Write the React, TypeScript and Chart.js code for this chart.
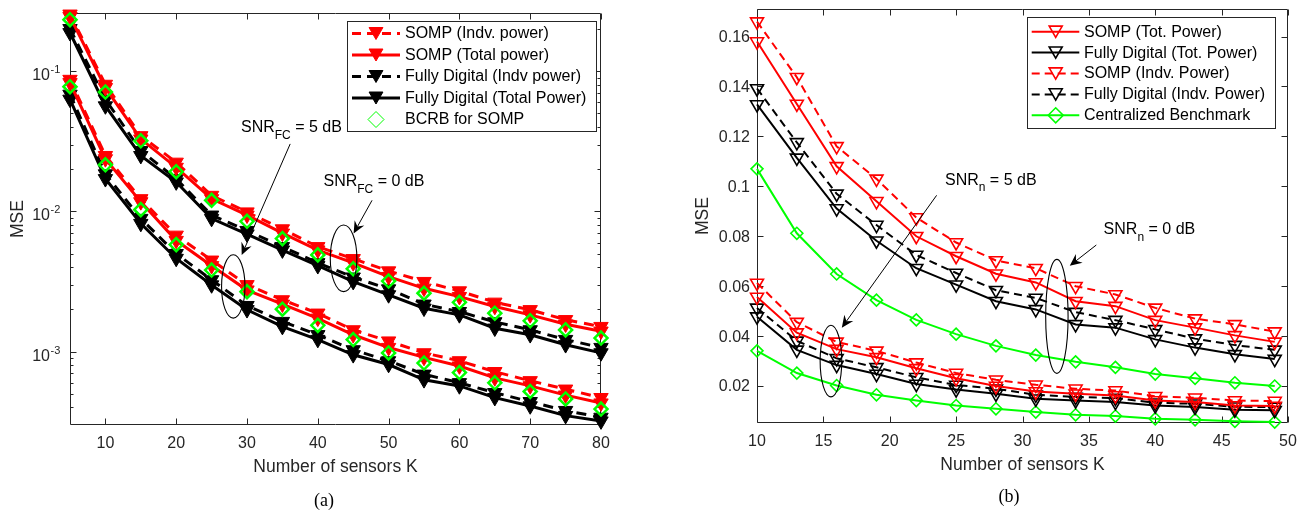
import React, { useEffect, useRef } from 'react';
import { Chart, registerables } from 'chart.js';

Chart.register(...registerables);

const FONT = '"Liberation Sans", Arial, Helvetica, sans-serif';
const SERIF = '"Liberation Serif", "Times New Roman", serif';
const AXIS = '#262626';
const RED = '#ff0000';
const BLACK = '#000000';
const GREEN = '#00ff00';

// ---------------- (a) data ----------------
const sensorsA = [5, 10, 15, 20, 25, 30, 35, 40, 45, 50, 55, 60, 65, 70, 75, 80];
// SNR_FC = 0 dB (upper group)
const sompIndv0dB_A = [0.255, 0.0805, 0.0346, 0.0224, 0.013, 0.0099, 0.0075, 0.0056, 0.0046, 0.00376, 0.00316, 0.00271, 0.00225, 0.00199, 0.00169, 0.00151];
const sompTotal0dB_A = [0.245, 0.0763, 0.0328, 0.0206, 0.0123, 0.0094, 0.007, 0.0053, 0.0043, 0.00343, 0.00283, 0.00247, 0.0021, 0.00183, 0.00157, 0.0014];
const fdIndv0dB_A = [0.201, 0.063, 0.0271, 0.0171, 0.0094, 0.0073, 0.0056, 0.0043, 0.0034, 0.0028, 0.00218, 0.00193, 0.00163, 0.00143, 0.00122, 0.00107];
const fdTotal0dB_A = [0.188, 0.0565, 0.025, 0.0162, 0.0089, 0.0069, 0.0053, 0.0041, 0.00316, 0.00254, 0.00204, 0.00183, 0.00147, 0.00132, 0.00112, 0.00098];
const bcrb0dB_A = [0.233, 0.071, 0.0319, 0.0192, 0.012, 0.0085, 0.0064, 0.0049, 0.0039, 0.00319, 0.00261, 0.00225, 0.00188, 0.00166, 0.00143, 0.00125];
// SNR_FC = 5 dB (lower group)
const sompIndv5dB_A = [0.0873, 0.025, 0.0123, 0.00676, 0.00449, 0.003, 0.00234, 0.00188, 0.00143, 0.00119, 0.00098, 0.00086, 0.00072, 0.00062, 0.00054, 0.00047];
const sompTotal5dB_A = [0.0827, 0.0237, 0.0117, 0.0062, 0.0041, 0.00275, 0.00218, 0.00173, 0.00132, 0.00107, 0.00091, 0.00079, 0.00065, 0.00057, 0.00049, 0.00043];
const fdIndv5dB_A = [0.0684, 0.0185, 0.0089, 0.005, 0.00325, 0.00213, 0.00164, 0.00132, 0.00103, 0.00086, 0.00069, 0.0006, 0.00051, 0.00044, 0.00038, 0.00034];
const fdTotal5dB_A = [0.063, 0.0171, 0.0082, 0.00462, 0.00299, 0.00199, 0.00151, 0.00122, 0.00095, 0.00081, 0.00063, 0.00057, 0.00047, 0.00041, 0.00035, 0.00032];
const bcrb5dB_A = [0.0775, 0.0215, 0.0103, 0.0058, 0.00382, 0.00268, 0.00201, 0.00154, 0.00122, 0.00098, 0.00083, 0.00071, 0.0006, 0.00052, 0.00046, 0.00039];

const xTicksA = [10, 20, 30, 40, 50, 60, 70, 80];
const yExponentsA = [-3, -2, -1];
const xMinA = 5, xMaxA = 80, yMinA = 3.14e-4, yMaxA = 0.26;
const legendLabelsA = ['SOMP (Indv. power)', 'SOMP (Total power)', 'Fully Digital (Indv power)', 'Fully Digital (Total Power)', 'BCRB for SOMP'];

// ---------------- (b) data ----------------
const sensorsB = [10, 13, 16, 19, 22, 25, 28, 31, 34, 37, 40, 43, 46, 49];
// SNR_n = 0 dB (upper group)
const sompTot0dB_B = [0.158, 0.133, 0.108, 0.094, 0.08, 0.072, 0.065, 0.0615, 0.054, 0.052, 0.0464, 0.0434, 0.0403, 0.0377];
const fdTot0dB_B = [0.1328, 0.1114, 0.0911, 0.0782, 0.0672, 0.0606, 0.054, 0.0507, 0.0447, 0.0434, 0.0387, 0.0354, 0.0327, 0.0308];
const sompIndv0dB_B = [0.166, 0.1437, 0.116, 0.103, 0.0875, 0.0775, 0.0703, 0.0672, 0.06, 0.0567, 0.0513, 0.047, 0.0447, 0.0418];
const fdIndv0dB_B = [0.1392, 0.1176, 0.097, 0.0845, 0.0725, 0.0653, 0.0584, 0.0553, 0.0496, 0.0464, 0.0427, 0.039, 0.0364, 0.0345];
const central0dB_B = [0.107, 0.0812, 0.0649, 0.0544, 0.0465, 0.0408, 0.0361, 0.0324, 0.0297, 0.0275, 0.0248, 0.0231, 0.0213, 0.02];
// SNR_n = 5 dB (lower group)
const sompTot5dB_B = [0.0557, 0.0414, 0.0348, 0.0315, 0.0271, 0.0231, 0.02, 0.0178, 0.0169, 0.0162, 0.0142, 0.0136, 0.0122, 0.012];
const fdTot5dB_B = [0.0478, 0.0345, 0.0284, 0.0248, 0.0208, 0.0186, 0.0169, 0.0149, 0.0142, 0.0136, 0.0122, 0.0116, 0.0105, 0.0103];
const sompIndv5dB_B = [0.0613, 0.0456, 0.0377, 0.0341, 0.0294, 0.0252, 0.0225, 0.0205, 0.0189, 0.0182, 0.0159, 0.0153, 0.0142, 0.014];
const fdIndv5dB_B = [0.0513, 0.0381, 0.0311, 0.0275, 0.0235, 0.0204, 0.0189, 0.0165, 0.0156, 0.0152, 0.0133, 0.0129, 0.0117, 0.0116];
const central5dB_B = [0.0341, 0.0252, 0.0202, 0.0165, 0.0142, 0.0122, 0.0109, 0.0096, 0.0085, 0.008, 0.0069, 0.0065, 0.0059, 0.0056];

const xTicksB = [10, 15, 20, 25, 30, 35, 40, 45, 50];
const yTicksB = [0.02, 0.04, 0.06, 0.08, 0.1, 0.12, 0.14, 0.16];
const xMinB = 10, xMaxB = 50, yMinB = 0.0052, yMaxB = 0.171;
const legendLabelsB = ['SOMP (Tot. Power)', 'Fully Digital (Tot. Power)', 'SOMP (Indv. Power)', 'Fully Digital (Indv. Power)', 'Centralized Benchmark'];

// ---------------- helpers ----------------
function series(xs: number[], ys: number[], o: any) {
  return {
    data: xs.map((x, i) => ({ x, y: ys[i] })),
    borderColor: o.color,
    backgroundColor: o.color,
    borderWidth: o.lineWidth,
    borderDash: o.dash || [],
    showLine: o.showLine !== false,
    pointStyle: o.marker,
    pointRotation: o.marker === 'triangle' ? 180 : 0,
    pointRadius: o.radius,
    pointHoverRadius: o.radius,
    pointBorderWidth: o.markerWidth,
    pointBorderColor: o.color,
    pointBackgroundColor: o.filled ? o.color : 'rgba(0,0,0,0)',
    tension: 0,
    fill: false,
    clip: false,
    order: o.order,
  };
}

function drawMarker(ctx: any, type: string, x: number, y: number, r: number, color: string, filled: boolean, lw: number) {
  ctx.beginPath();
  if (type === 'triangle') {
    ctx.moveTo(x - r * 0.866, y - r / 2);
    ctx.lineTo(x + r * 0.866, y - r / 2);
    ctx.lineTo(x, y + r);
    ctx.closePath();
  } else {
    ctx.moveTo(x - r, y);
    ctx.lineTo(x, y - r);
    ctx.lineTo(x + r, y);
    ctx.lineTo(x, y + r);
    ctx.closePath();
  }
  ctx.setLineDash([]);
  ctx.lineWidth = lw;
  ctx.strokeStyle = color;
  if (filled) {
    ctx.fillStyle = color;
    ctx.fill();
  }
  ctx.stroke();
}

function drawFrame(chart: any, spec: any) {
  const { ctx, chartArea: a } = chart;
  const xs = chart.scales.x;
  const ys = chart.scales.y;
  const L = Math.round(a.left) + 0.5;
  const R = Math.round(a.right) - 0.5;
  const T = Math.round(a.top) + 0.5;
  const B = Math.round(a.bottom) - 0.5;
  ctx.save();
  ctx.strokeStyle = AXIS;
  ctx.lineWidth = 1;
  ctx.setLineDash([]);
  ctx.beginPath();
  ctx.rect(L, T, R - L, B - T);
  for (const t of spec.xTicks) {
    const p = Math.round(xs.getPixelForValue(t)) + 0.5;
    ctx.moveTo(p, B); ctx.lineTo(p, B - 6);
    ctx.moveTo(p, T); ctx.lineTo(p, T + 6);
  }
  for (const t of spec.yMajor) {
    const p = Math.round(ys.getPixelForValue(t)) + 0.5;
    ctx.moveTo(L, p); ctx.lineTo(L + 6, p);
    ctx.moveTo(R, p); ctx.lineTo(R - 6, p);
  }
  for (const t of spec.yMinor) {
    const p = Math.round(ys.getPixelForValue(t)) + 0.5;
    ctx.moveTo(L, p); ctx.lineTo(L + 3, p);
    ctx.moveTo(R, p); ctx.lineTo(R - 3, p);
  }
  ctx.stroke();

  ctx.fillStyle = AXIS;
  ctx.font = `16px ${FONT}`;
  ctx.textAlign = 'center';
  ctx.textBaseline = 'middle';
  spec.xTicks.forEach((t: number) => ctx.fillText(String(t), xs.getPixelForValue(t), a.bottom + 18.5));

  spec.drawYLabels(ctx, ys, a);

  ctx.fillStyle = AXIS;
  ctx.font = `17.5px ${FONT}`;
  ctx.textAlign = 'center';
  ctx.textBaseline = 'middle';
  ctx.fillText('Number of sensors K', (a.left + a.right) / 2, a.bottom + 42);
  ctx.save();
  ctx.translate(spec.yTitleX, (a.top + a.bottom) / 2);
  ctx.rotate(-Math.PI / 2);
  ctx.fillText('MSE', 0, 0);
  ctx.restore();

  ctx.fillStyle = '#000';
  ctx.font = `18px ${SERIF}`;
  ctx.fillText(spec.caption, spec.captionX, spec.captionY);
  ctx.restore();
}

function drawLegend(ctx: any, lg: any) {
  ctx.save();
  ctx.fillStyle = '#fff';
  ctx.fillRect(lg.x, lg.y, lg.w, lg.h);
  ctx.strokeStyle = AXIS;
  ctx.lineWidth = 1;
  ctx.setLineDash([]);
  ctx.strokeRect(Math.round(lg.x) + 0.5, Math.round(lg.y) + 0.5, Math.round(lg.w), Math.round(lg.h));
  lg.rows.forEach((row: any, i: number) => {
    const y = lg.rowY0 + i * lg.rowStep;
    if (row.line) {
      ctx.beginPath();
      ctx.strokeStyle = row.color;
      ctx.lineWidth = lg.lineWidth;
      ctx.setLineDash(row.dash ? lg.dash : []);
      ctx.moveTo(lg.sx1, y);
      ctx.lineTo(lg.sx2, y);
      ctx.stroke();
    }
    drawMarker(ctx, row.marker, lg.mx, y + (row.marker === 'triangle' ? -lg.r / 4 : 0), lg.r, row.color, row.filled, lg.markerWidth);
    ctx.fillStyle = '#000';
    ctx.font = `16px ${FONT}`;
    ctx.textAlign = 'left';
    ctx.textBaseline = 'middle';
    ctx.fillText(row.label, lg.tx, y + 0.5);
  });
  ctx.restore();
}

function drawAnnotations(chart: any, ann: any) {
  const { ctx } = chart;
  const xs = chart.scales.x;
  const ys = chart.scales.y;
  const P = (k: number, v: number) => [xs.getPixelForValue(k), ys.getPixelForValue(v)];
  ctx.save();
  ctx.strokeStyle = '#000';
  ctx.fillStyle = '#000';
  ctx.lineWidth = 1.1;
  ctx.setLineDash([]);
  for (const e of ann.ellipses) {
    const [x, y] = P(e.k, e.v);
    ctx.beginPath();
    ctx.ellipse(x, y, e.rx, e.ry, 0, 0, Math.PI * 2);
    ctx.stroke();
  }
  for (const ar of ann.arrows) {
    const [x0, y0] = P(ar.from[0], ar.from[1]);
    const [x1, y1] = P(ar.to[0], ar.to[1]);
    const len = Math.hypot(x1 - x0, y1 - y0);
    const ux = (x1 - x0) / len, uy = (y1 - y0) / len;
    const nx = -uy, ny = ux;
    const HL = 12, HW = 5.5, NOTCH = 4;
    ctx.beginPath();
    ctx.lineWidth = 1;
    ctx.moveTo(x0, y0);
    ctx.lineTo(x1 - ux * (HL - NOTCH), y1 - uy * (HL - NOTCH));
    ctx.stroke();
    ctx.beginPath();
    ctx.moveTo(x1, y1);
    ctx.lineTo(x1 - ux * HL + nx * HW, y1 - uy * HL + ny * HW);
    ctx.lineTo(x1 - ux * (HL - NOTCH), y1 - uy * (HL - NOTCH));
    ctx.lineTo(x1 - ux * HL - nx * HW, y1 - uy * HL - ny * HW);
    ctx.closePath();
    ctx.fill();
  }
  ctx.textAlign = 'left';
  ctx.textBaseline = 'alphabetic';
  for (const t of ann.texts) {
    let [x, y] = P(t.k, t.v);
    ctx.font = `16px ${FONT}`;
    ctx.fillText('SNR', x, y + 5.8);
    x += ctx.measureText('SNR').width;
    ctx.font = `12px ${FONT}`;
    ctx.fillText(t.sub, x, y + 12.5);
    x += ctx.measureText(t.sub).width;
    ctx.font = `16px ${FONT}`;
    ctx.fillText(t.rest, x, y + 5.8);
  }
  ctx.restore();
}

// ---------------- chart configs ----------------
function minorLogTicks(min: number, max: number) {
  const out: number[] = [];
  for (let e = -5; e <= 1; e++) {
    for (let m = 2; m <= 9; m++) {
      const v = m * Math.pow(10, e);
      if (v > min && v < max) out.push(v);
    }
  }
  return out;
}

function configA() {
  const tri = { marker: 'triangle', radius: 8.3, markerWidth: 1, filled: true, lineWidth: 3 };
  const dia = { marker: 'rectRot', radius: 6.5, markerWidth: 2.5, filled: false, lineWidth: 0, showLine: false, color: GREEN, order: 0 };
  const dashA = [10, 7];
  const datasets = [
    series(sensorsA, sompIndv0dB_A, { ...tri, color: RED, dash: dashA, order: 1 }),
    series(sensorsA, sompTotal0dB_A, { ...tri, color: RED, order: 1 }),
    series(sensorsA, fdIndv0dB_A, { ...tri, color: BLACK, dash: dashA, order: 2 }),
    series(sensorsA, fdTotal0dB_A, { ...tri, color: BLACK, order: 2 }),
    series(sensorsA, bcrb0dB_A, dia),
    series(sensorsA, sompIndv5dB_A, { ...tri, color: RED, dash: dashA, order: 1 }),
    series(sensorsA, sompTotal5dB_A, { ...tri, color: RED, order: 1 }),
    series(sensorsA, fdIndv5dB_A, { ...tri, color: BLACK, dash: dashA, order: 2 }),
    series(sensorsA, fdTotal5dB_A, { ...tri, color: BLACK, order: 2 }),
    series(sensorsA, bcrb5dB_A, dia),
  ];
  const spec = {
    xTicks: xTicksA,
    yMajor: yExponentsA.map((e) => Math.pow(10, e)),
    yMinor: minorLogTicks(yMinA, yMaxA),
    yTitleX: 18,
    caption: '(a)',
    captionX: 324,
    captionY: 501,
    drawYLabels: (ctx: any, ys: any, a: any) => {
      yExponentsA.forEach((e) => {
        const p = ys.getPixelForValue(Math.pow(10, e));
        const xr = a.left - 20;
        ctx.textBaseline = 'alphabetic';
        ctx.textAlign = 'right';
        ctx.font = `16px ${FONT}`;
        ctx.fillText('10', xr, p + 9);
        ctx.textAlign = 'left';
        ctx.font = `11px ${FONT}`;
        ctx.fillText(String(e), xr + 0.5, p + 2);
      });
    },
  };
  const legend = {
    x: 347, y: 21, w: 249, h: 110,
    rowY0: 33.5, rowStep: 21.5,
    sx1: 352, sx2: 400, mx: 376, tx: 405,
    lineWidth: 3, dash: [9, 6], r: 8, markerWidth: 1,
    rows: [
      { label: legendLabelsA[0], color: RED, dash: true, line: true, marker: 'triangle', filled: true },
      { label: legendLabelsA[1], color: RED, dash: false, line: true, marker: 'triangle', filled: true },
      { label: legendLabelsA[2], color: BLACK, dash: true, line: true, marker: 'triangle', filled: true },
      { label: legendLabelsA[3], color: BLACK, dash: false, line: true, marker: 'triangle', filled: true },
      { label: legendLabelsA[4], color: GREEN, dash: false, line: false, marker: 'diamond', filled: false },
    ],
  };
  const ann = {
    texts: [
      { k: 29.15, v: 0.0405, sub: 'FC', rest: ' = 5 dB' },
      { k: 40.8, v: 0.01664, sub: 'FC', rest: ' = 0 dB' },
    ],
    arrows: [
      { from: [36.1, 0.0303], to: [29.25, 0.00489] },
      { from: [47.66, 0.012], to: [45.06, 0.00697] },
    ],
    ellipses: [
      { k: 28.06, v: 0.00292, rx: 11.7, ry: 31.7 },
      { k: 43.64, v: 0.00463, rx: 13.3, ry: 33.3 },
    ],
  };
  return makeConfig(datasets, { xMin: xMinA, xMax: xMaxA, yMin: yMinA, yMax: yMaxA, log: true, padRight: 49, padTop: 13, yWidth: 70, xHeight: 87 }, spec, legend, ann);
}

function configB() {
  const tri = { marker: 'triangle', radius: 7.5, markerWidth: 1.6, filled: false, lineWidth: 2 };
  const dashB = [8, 5];
  const dia = { marker: 'rectRot', radius: 6, markerWidth: 1.6, filled: false, lineWidth: 2, color: GREEN, order: 3 };
  const datasets = [
    series(sensorsB, sompTot0dB_B, { ...tri, color: RED, order: 1 }),
    series(sensorsB, fdTot0dB_B, { ...tri, color: BLACK, order: 2 }),
    series(sensorsB, sompIndv0dB_B, { ...tri, color: RED, dash: dashB, order: 1 }),
    series(sensorsB, fdIndv0dB_B, { ...tri, color: BLACK, dash: dashB, order: 2 }),
    series(sensorsB, central0dB_B, dia),
    series(sensorsB, sompTot5dB_B, { ...tri, color: RED, order: 1 }),
    series(sensorsB, fdTot5dB_B, { ...tri, color: BLACK, order: 2 }),
    series(sensorsB, sompIndv5dB_B, { ...tri, color: RED, dash: dashB, order: 1 }),
    series(sensorsB, fdIndv5dB_B, { ...tri, color: BLACK, dash: dashB, order: 2 }),
    series(sensorsB, central5dB_B, dia),
  ];
  const spec = {
    xTicks: xTicksB,
    yMajor: yTicksB,
    yMinor: [],
    yTitleX: 52.7,
    caption: '(b)',
    captionX: 359,
    captionY: 497,
    drawYLabels: (ctx: any, ys: any, a: any) => {
      ctx.textBaseline = 'middle';
      ctx.textAlign = 'right';
      ctx.font = `16px ${FONT}`;
      yTicksB.forEach((t) => {
        ctx.fillText(String(parseFloat(t.toFixed(2))), a.left - 7, ys.getPixelForValue(t) + 1);
      });
    },
  };
  const legend = {
    x: 376.7, y: 16.7, w: 248.3, h: 110.6,
    rowY0: 31.7, rowStep: 20.9,
    sx1: 381.7, sx2: 429.3, mx: 405.7, tx: 434,
    lineWidth: 2, dash: [8, 5], r: 7.5, markerWidth: 1.6,
    rows: [
      { label: legendLabelsB[0], color: RED, dash: false, line: true, marker: 'triangle', filled: false },
      { label: legendLabelsB[1], color: BLACK, dash: false, line: true, marker: 'triangle', filled: false },
      { label: legendLabelsB[2], color: RED, dash: true, line: true, marker: 'triangle', filled: false },
      { label: legendLabelsB[3], color: BLACK, dash: true, line: true, marker: 'triangle', filled: false },
      { label: legendLabelsB[4], color: GREEN, dash: false, line: true, marker: 'diamond', filled: false },
    ],
  };
  const ann = {
    texts: [
      { k: 24.16, v: 0.103, sub: 'n', rest: ' = 5 dB' },
      { k: 36.11, v: 0.0831, sub: 'n', rest: ' = 0 dB' },
    ],
    arrows: [
      { from: [23.53, 0.0964], to: [16.39, 0.0434] },
      { from: [35.56, 0.0765], to: [33.56, 0.0682] },
    ],
    ellipses: [
      { k: 15.57, v: 0.03, rx: 10.8, ry: 35.8 },
      { k: 32.59, v: 0.0479, rx: 11.2, ry: 57 },
    ],
  };
  return makeConfig(datasets, { xMin: xMinB, xMax: xMaxB, yMin: yMinB, yMax: yMaxB, log: false, padRight: 14, padTop: 4, yWidth: 107, xHeight: 89 }, spec, legend, ann);
}

function makeConfig(datasets: any[], ax: any, spec: any, legend: any, ann: any): any {
  return {
    type: 'line',
    data: { datasets },
    options: {
      responsive: false,
      maintainAspectRatio: false,
      animation: false,
      events: [],
      layout: { padding: { left: 0, right: ax.padRight, top: ax.padTop, bottom: 0 } },
      plugins: { legend: { display: false }, tooltip: { enabled: false }, title: { display: false } },
      scales: {
        x: {
          type: 'linear',
          min: ax.xMin,
          max: ax.xMax,
          ticks: { display: false },
          grid: { display: false, drawTicks: false },
          border: { display: false },
          afterFit: (s: any) => { s.height = ax.xHeight; },
        },
        y: {
          type: ax.log ? 'logarithmic' : 'linear',
          min: ax.yMin,
          max: ax.yMax,
          ticks: { display: false },
          grid: { display: false, drawTicks: false },
          border: { display: false },
          afterFit: (s: any) => { s.width = ax.yWidth; },
        },
      },
    },
    plugins: [
      {
        id: 'matlabFrame',
        beforeDatasetsDraw(chart: any) {
          drawFrame(chart, spec);
        },
        afterDatasetsDraw(chart: any) {
          drawAnnotations(chart, ann);
          drawLegend(chart.ctx, legend);
        },
      },
    ],
  };
}

function Panel({ make, left, width }: { make: () => any; left: number; width: number }) {
  const ref = useRef<HTMLCanvasElement | null>(null);
  useEffect(() => {
    if (!ref.current) return;
    const chart = new Chart(ref.current, make());
    return () => chart.destroy();
  }, []);
  return (
    <canvas
      ref={ref}
      width={width}
      height={512}
      style={{ position: 'absolute', left, top: 0, width, height: 512, display: 'block' }}
    />
  );
}

export default function App() {
  return (
    <div style={{ position: 'absolute', left: 0, top: 0, width: 1302, height: 512, background: '#fff', overflow: 'hidden' }}>
      <Panel make={configA} left={0} width={650} />
      <Panel make={configB} left={650} width={652} />
    </div>
  );
}
